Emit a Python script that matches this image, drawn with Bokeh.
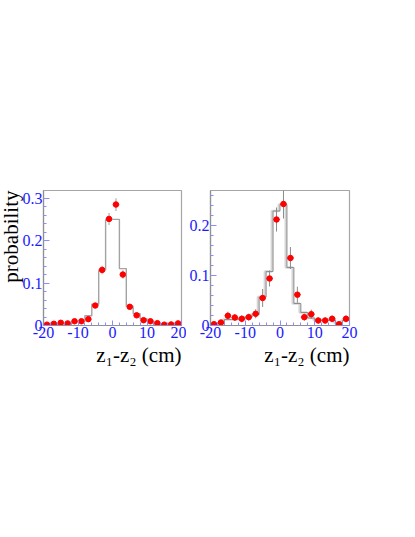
import numpy as np
from bokeh.plotting import figure
from bokeh.layouts import row
from bokeh.models import FixedTicker, Title, Range1d, ColumnDataSource
from bokeh.transform import dodge
from bokeh.embed import file_html
from bokeh.resources import INLINE

# ---------------- data ----------------
bin_edges = [-20, -18, -16, -14, -12, -10, -8, -6, -4, -2, 0, 2, 4, 6, 8, 10, 12, 14, 16, 18, 20]
bin_centers = [-19, -17, -15, -13, -11, -9, -7, -5, -3, -1, 1, 3, 5, 7, 9, 11, 13, 15, 17, 19]
x_half_width = 1.0

left_hist = [0.003, 0.003, 0.004, 0.004, 0.009, 0.010, 0.023, 0.050, 0.131, 0.250,
             0.250, 0.134, 0.045, 0.028, 0.016, 0.010, 0.005, 0.003, 0.003, 0.003]
left_pts = [0.002, 0.004, 0.0064, 0.005, 0.010, 0.010, 0.015, 0.047, 0.131, 0.251,
            0.285, 0.120, 0.044, 0.024, 0.0125, 0.010, 0.0055, 0.002, 0.0025, 0.005]
left_err = [0.002, 0.002, 0.003, 0.002, 0.003, 0.003, 0.004, 0.006, 0.010, 0.014,
            0.015, 0.010, 0.005, 0.004, 0.003, 0.003, 0.002, 0.002, 0.002, 0.002]

right_hist = [0.003, 0.004, 0.012, 0.012, 0.013, 0.017, 0.022, 0.057, 0.108, 0.229,
              0.242, 0.116, 0.044, 0.026, 0.015, 0.011, 0.011, 0.011, 0.005, 0.010]
right_pts = [0.0026, 0.006, 0.0195, 0.016, 0.0134, 0.0167, 0.0234, 0.055, 0.094, 0.212,
             0.243, 0.135, 0.0616, 0.0167, 0.0227, 0.010, 0.010, 0.0134, 0.0026, 0.0134]
right_err = [0.004, 0.004, 0.008, 0.007, 0.007, 0.007, 0.009, 0.018, 0.016, 0.024,
             0.029, 0.022, 0.016, 0.007, 0.009, 0.006, 0.006, 0.007, 0.004, 0.007]

x_ticks = [-20, -10, 0, 10, 20]
x_tick_labels = ["-20", "-10", "0", "10", "20"]
left_y_ticks = [0, 0.1, 0.2, 0.3]
left_y_tick_labels = ["0", "0.1", "0.2", "0.3"]
right_y_ticks = [0, 0.1, 0.2]
right_y_tick_labels = ["0", "0.1", "0.2"]

y_label = "probability"
x_label = "z\u2081-z\u2082 (cm)"

FONT = "Liberation Serif"
TICK_BLUE = "#1a1aff"
TICK_MARK = "#8c8cff"
FRAME = "#a6a6a6"


def make_fig(hist, pts, err, ymax, yticks, ylabels, border_left, border_right,
             frame_w, err_color, err_width, double_line):
    p = figure(frame_width=frame_w, frame_height=135, output_backend="svg",
               toolbar_location=None, min_border_left=border_left,
               min_border_right=border_right, min_border_top=190,
               min_border_bottom=60,
               x_range=Range1d(-20, 20), y_range=Range1d(0, ymax))
    p.xgrid.visible = False
    p.ygrid.visible = False
    p.outline_line_color = FRAME
    p.outline_line_width = 1.2
    p.background_fill_color = "white"
    p.border_fill_color = "white"

    for ax in (p.xaxis[0], p.yaxis[0]):
        ax.axis_line_color = "#909090"
        ax.axis_line_width = 1.2
        ax.major_tick_line_color = TICK_MARK
        ax.minor_tick_line_color = TICK_MARK
        ax.major_tick_out = 0
        ax.minor_tick_out = 0
        ax.major_label_text_color = TICK_BLUE
        ax.major_label_text_font = FONT
        ax.major_label_text_font_size = "16px"
        ax.major_label_standoff = 1

    p.xaxis.ticker = FixedTicker(ticks=x_ticks, minor_ticks=list(range(-20, 21, 2)))
    p.xaxis.major_label_overrides = dict(zip(x_ticks, x_tick_labels))
    p.xaxis.major_tick_in = 5
    p.xaxis.minor_tick_in = 3

    p.yaxis.ticker = FixedTicker(ticks=yticks,
                                 minor_ticks=[round(v, 2) for v in np.arange(0, ymax, 0.02)])
    p.yaxis.major_label_overrides = dict(zip(yticks, ylabels))
    p.yaxis.major_tick_in = 6
    p.yaxis.minor_tick_in = 3

    step_y = list(hist) + [hist[-1]]
    src_h = ColumnDataSource(dict(x=bin_edges, y=step_y))
    if double_line:
        p.step(x=dodge("x", -0.35, range=p.x_range), y="y", source=src_h,
               mode="after", line_color="#d6d6d6", line_width=2.5)
        p.step(x="x", y="y", source=src_h, mode="after", line_color="#8e8e8e",
               line_width=1)
    else:
        p.step(x="x", y="y", source=src_h, mode="after", line_color="#a3a3a3",
               line_width=1.4)

    pts_a = np.array(pts)
    err_a = np.array(err)
    xc = np.array(bin_centers)
    src = ColumnDataSource(dict(x=xc, y=pts_a, lo=pts_a - err_a, hi=pts_a + err_a,
                                xl=xc - x_half_width, xr=xc + x_half_width))
    p.segment(x0="x", y0="lo", x1="x", y1="hi", source=src, line_color=err_color,
              line_width=err_width)
    p.segment(x0="xl", y0="y", x1="xr", y1="y", source=src, line_color=err_color,
              line_width=err_width)
    p.scatter(x="x", y="y", source=src, size=5.5, marker="circle",
              fill_color="#ff0000", line_color="#ff0000")

    p.add_layout(Title(text=x_label, align="right", text_font=FONT,
                       text_font_size="21px", text_font_style="normal",
                       text_color="black", standoff=0, offset=0), "below")
    return p


left = make_fig(left_hist, left_pts, left_err, 0.318, left_y_ticks, left_y_tick_labels,
                42, 5, 138, "#cdcdcd", 2, False)
left.add_layout(Title(text=y_label, align="right", text_font=FONT,
                      text_font_size="21px", text_font_style="normal",
                      text_color="black", standoff=-7, offset=0), "left")

right = make_fig(right_hist, right_pts, right_err, 0.270, right_y_ticks,
                 right_y_tick_labels, 23, 20, 139, "#8a8a8a", 1, True)

layout = row(left, right, spacing=0)
open("out.html", "w").write(file_html(layout, INLINE))
